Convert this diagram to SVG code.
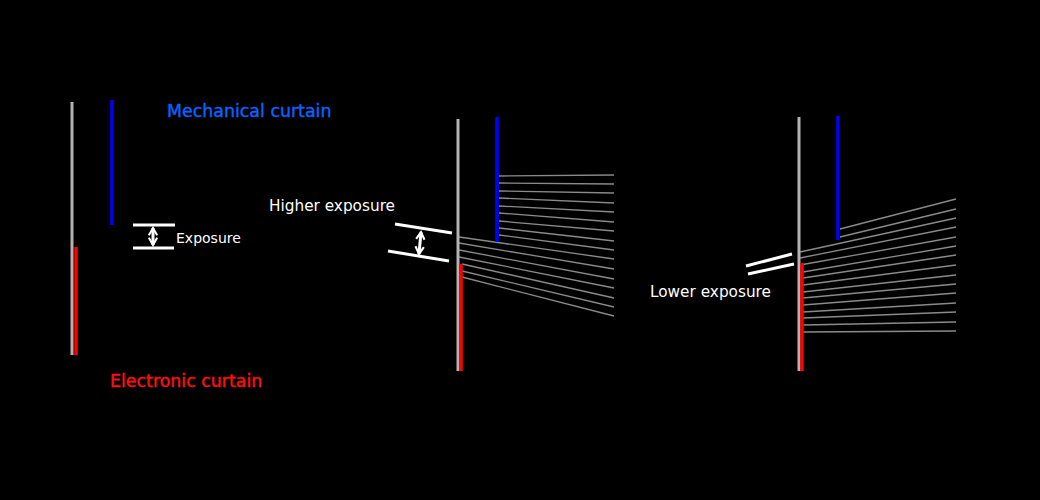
<svg xmlns="http://www.w3.org/2000/svg" width="1040" height="500" viewBox="0 0 1040 500">
<defs>
<style>
.g{stroke:#b3b3b3;stroke-width:3}
.b{stroke:#0000ff;stroke-width:3.5}
.r{stroke:#ff0000;stroke-width:3.5}
.w{stroke:#fff;stroke-width:3;fill:none}
.l{stroke:#8a8a8a;stroke-width:1.3}
text{font-family:"DejaVu Sans",sans-serif;fill:#fff}
.t{font-size:17.4px;stroke-width:0.4px}
</style>
<marker id="ah" viewBox="0 0 10 10" refX="8" refY="5" markerWidth="3.5" markerHeight="3.5" orient="auto-start-reverse"><path d="M1,1 L8,5 L1,9" fill="none" stroke="#fff" stroke-width="2"/></marker>
</defs>
<rect width="1040" height="500" fill="#000"/>
<g id="left">
<line class="g" x1="72" y1="102" x2="72" y2="355"/>
<line class="b" x1="112" y1="100" x2="112" y2="225"/>
<line class="r" x1="76" y1="247" x2="76" y2="355"/>
<line class="w" x1="133" y1="225" x2="175" y2="225"/>
<line class="w" x1="133" y1="248" x2="174" y2="248"/>
<line class="w" x1="153" y1="228" x2="153" y2="245" marker-start="url(#ah)" marker-end="url(#ah)"/>
<text x="176" y="243" font-size="14">Exposure</text>
<text class="t" x="167" y="117" style="fill:#0a64ff;stroke:#0a64ff">Mechanical curtain</text>
<text class="t" x="110" y="387" style="fill:#ff1010;stroke:#ff1010">Electronic curtain</text>
</g>
<g id="middle">
<g class="l">
<line x1="499" y1="176" x2="614" y2="175"/>
<line x1="499" y1="183" x2="614" y2="184"/>
<line x1="499" y1="191" x2="614" y2="193"/>
<line x1="499" y1="198" x2="614" y2="203"/>
<line x1="499" y1="206" x2="614" y2="212"/>
<line x1="499" y1="213" x2="614" y2="222"/>
<line x1="499" y1="221" x2="614" y2="231"/>
<line x1="499" y1="228" x2="614" y2="241"/>
<line x1="499" y1="235" x2="614" y2="250"/>
<line x1="459" y1="237" x2="614" y2="259"/>
<line x1="459" y1="243" x2="614" y2="269"/>
<line x1="459" y1="250" x2="614" y2="279"/>
<line x1="459" y1="257" x2="614" y2="288"/>
<line x1="462" y1="264" x2="614" y2="298"/>
<line x1="462" y1="271" x2="614" y2="307"/>
<line x1="462" y1="277" x2="614" y2="316"/>
</g>
<line class="g" x1="458" y1="119" x2="458" y2="371"/>
<line class="b" x1="497" y1="117" x2="497" y2="242"/>
<line class="r" x1="461" y1="264" x2="461" y2="371"/>
<line class="w" x1="395" y1="224" x2="452" y2="233"/>
<line class="w" x1="388" y1="251" x2="449" y2="261"/>
<line class="w" x1="421" y1="232" x2="419" y2="254" marker-start="url(#ah)" marker-end="url(#ah)"/>
<text x="269" y="211" font-size="15.3">Higher exposure</text>
</g>
<g id="right">
<g class="l">
<line x1="840" y1="229" x2="956" y2="199"/>
<line x1="840" y1="237" x2="956" y2="209"/>
<line x1="800" y1="252" x2="956" y2="218"/>
<line x1="800" y1="258" x2="956" y2="227"/>
<line x1="800" y1="265" x2="956" y2="237"/>
<line x1="803" y1="272" x2="956" y2="246"/>
<line x1="803" y1="278" x2="956" y2="255"/>
<line x1="803" y1="285" x2="956" y2="265"/>
<line x1="803" y1="292" x2="956" y2="275"/>
<line x1="803" y1="298" x2="956" y2="284"/>
<line x1="803" y1="305" x2="956" y2="293"/>
<line x1="803" y1="312" x2="956" y2="303"/>
<line x1="803" y1="318" x2="956" y2="312"/>
<line x1="803" y1="325" x2="956" y2="322"/>
<line x1="803" y1="332" x2="956" y2="331"/>
</g>
<line class="g" x1="799" y1="117" x2="799" y2="371"/>
<line class="b" x1="838" y1="116" x2="838" y2="240"/>
<line class="r" x1="802" y1="263" x2="802" y2="371"/>
<line class="w" x1="746" y1="266" x2="792" y2="254"/>
<line class="w" x1="748" y1="274" x2="794" y2="264"/>
<text x="650" y="297" font-size="15.3">Lower exposure</text>
</g>
</svg>
